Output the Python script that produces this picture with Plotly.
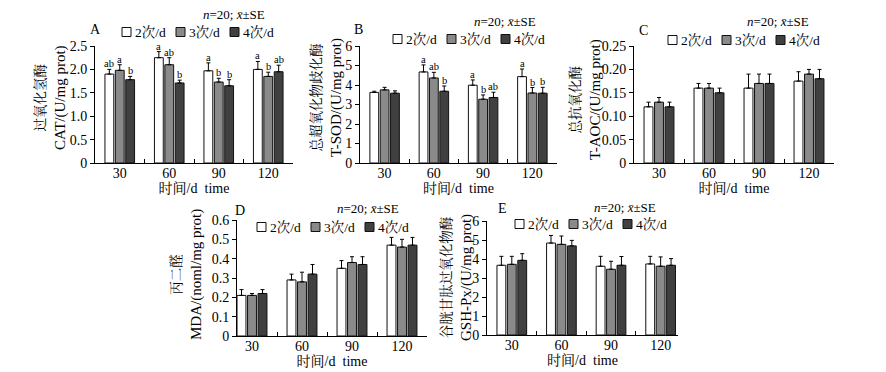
import plotly.graph_objects as go

W, H = 886, 372

categories = ["30", "60", "90", "120"]
groups = ["2次/d", "3次/d", "4次/d"]
bar_colors = ["#ffffff", "#8a8a8a", "#404040"]

# A: CAT
cat_2 = [1.90, 2.25, 1.97, 2.00]
cat_3 = [1.98, 2.10, 1.73, 1.85]
cat_4 = [1.78, 1.71, 1.65, 1.95]
cat_2_se = [0.10, 0.13, 0.17, 0.17]
cat_3_se = [0.12, 0.15, 0.08, 0.09]
cat_4_se = [0.07, 0.06, 0.13, 0.14]
cat_2_sig = ["ab", "a", "a", "a"]
cat_3_sig = ["a", "ab", "b", "b"]
cat_4_sig = ["b", "b", "b", "ab"]

# B: T-SOD
sod_2 = [3.62, 4.67, 3.99, 4.43]
sod_3 = [3.75, 4.36, 3.27, 3.59]
sod_4 = [3.58, 3.68, 3.36, 3.58]
sod_2_se = [0.06, 0.36, 0.27, 0.39]
sod_3_se = [0.13, 0.29, 0.22, 0.28]
sod_4_se = [0.12, 0.27, 0.27, 0.30]
sod_2_sig = ["", "a", "a", "a"]
sod_3_sig = ["", "ab", "b", "b"]
sod_4_sig = ["", "b", "ab", "b"]

# C: T-AOC
aoc_2 = [0.12, 0.16, 0.16, 0.175]
aoc_3 = [0.13, 0.16, 0.17, 0.19]
aoc_4 = [0.12, 0.15, 0.17, 0.18]
aoc_2_se = [0.01, 0.01, 0.03, 0.02]
aoc_3_se = [0.01, 0.01, 0.02, 0.01]
aoc_4_se = [0.01, 0.01, 0.02, 0.02]

# D: MDA
mda_2 = [0.21, 0.29, 0.35, 0.47]
mda_3 = [0.21, 0.28, 0.38, 0.46]
mda_4 = [0.22, 0.32, 0.37, 0.47]
mda_2_se = [0.03, 0.03, 0.04, 0.04]
mda_3_se = [0.01, 0.05, 0.03, 0.04]
mda_4_se = [0.02, 0.05, 0.04, 0.04]

# E: GSH-Px
gsh_2 = [3.67, 4.84, 3.62, 3.74]
gsh_3 = [3.72, 4.77, 3.46, 3.62]
gsh_4 = [3.93, 4.69, 3.67, 3.67]
gsh_2_se = [0.47, 0.40, 0.52, 0.40]
gsh_3_se = [0.42, 0.44, 0.42, 0.49]
gsh_4_se = [0.35, 0.29, 0.46, 0.35]

SERIF = "Liberation Serif, Times New Roman, Noto Serif CJK SC, Noto Sans CJK SC, serif"
BARGAP = 0.37

panels = [
    dict(label="A", means=[cat_2, cat_3, cat_4], ses=[cat_2_se, cat_3_se, cat_4_se],
         sig=[cat_2_sig, cat_3_sig, cat_4_sig],
         cn="过氧化氢酶", en="CAT/(U/mg prot)",
         box=(95, 293, 46, 163), xr=[-0.5, 3.5],
         yticks=[0, 0.5, 1.0, 1.5, 2.0, 2.5], ytext=["0", "0.5", "1.0", "1.5", "2.0", "2.5"],
         lab=(95, 29), nse=(234, 15), leg=(122, 32), ttl=(51, 98)),
    dict(label="B", means=[sod_2, sod_3, sod_4], ses=[sod_2_se, sod_3_se, sod_4_se],
         sig=[sod_2_sig, sod_3_sig, sod_4_sig],
         cn="总超氧化物歧化酶", en="T-SOD/(U/mg prot)",
         box=(360, 557, 46, 163), xr=[-0.5, 3.5],
         yticks=[0, 1, 2, 3, 4, 5, 6], ytext=["0", "1", "2", "3", "4", "5", "6"],
         lab=(358, 29), nse=(505, 22), leg=(393, 39), ttl=(326, 98)),
    dict(label="C", means=[aoc_2, aoc_3, aoc_4], ses=[aoc_2_se, aoc_3_se, aoc_4_se],
         sig=None,
         cn="总抗氧化酶", en="T-AOC/(U/mg prot)",
         box=(634, 834, 46, 163), xr=[-0.5, 3.5],
         yticks=[0, 0.05, 0.10, 0.15, 0.20, 0.25],
         ytext=["0", "0.05", "0.10", "0.15", "0.20", "0.25"],
         lab=(643, 30), nse=(778, 22), leg=(668, 40), ttl=(585, 100)),
    dict(label="D", means=[mda_2, mda_3, mda_4], ses=[mda_2_se, mda_3_se, mda_4_se],
         sig=None,
         cn="丙二醛", en="MDA/(noml/mg prot)",
         box=(237, 427, 220, 336), xr=[-0.3, 3.5],
         yticks=[0, 0.1, 0.2, 0.3, 0.4, 0.5, 0.6],
         ytext=["0", "0.1", "0.2", "0.3", "0.4", "0.5", "0.6"],
         lab=(240, 210), nse=(368, 209), leg=(257, 227), ttl=(186, 275)),
    dict(label="E", means=[gsh_2, gsh_3, gsh_4], ses=[gsh_2_se, gsh_3_se, gsh_4_se],
         sig=None,
         cn="谷胱甘肽过氧化物酶", en="GSH-Px/(U/mg prot)",
         box=(487, 678, 221, 335), xr=[-0.5, 3.35],
         yticks=[0, 1, 2, 3, 4, 5, 6], ytext=["0", "1", "2", "3", "4", "5", "6"],
         lab=(502, 209), nse=(625, 208), leg=(515, 224), ttl=(456, 278)),
]


def px(x):
    return x / W


def py(y):
    return 1 - y / H


fig = go.Figure()
layout = dict(
    width=W, height=H, margin=dict(l=0, r=0, t=0, b=0),
    paper_bgcolor="white", plot_bgcolor="white",
    barmode="group", bargap=BARGAP, bargroupgap=0.15,
    showlegend=False, font=dict(family=SERIF, size=14, color="black"),
)
annotations = []
shapes = []

for k, p in enumerate(panels):
    idx = "" if k == 0 else str(k + 1)
    xa, ya = "x" + idx, "y" + idx
    x0, x1, y0, y1 = p["box"]
    ymax = p["yticks"][-1]
    for g in range(3):
        fig.add_trace(go.Bar(
            x=categories, y=p["means"][g], name=groups[g],
            xaxis=xa, yaxis=ya, offsetgroup=str(g),
            marker=dict(color=bar_colors[g], line=dict(color="#111111", width=1)),
            error_y=dict(type="data", array=p["ses"][g], arrayminus=[0] * 4,
                         symmetric=False, color="black", thickness=1, width=2),
            hoverinfo="skip",
        ))
    layout["xaxis" + idx] = dict(
        domain=[px(x0), px(x1)], anchor=ya, type="category", range=p["xr"],
        showline=True, linecolor="black", linewidth=1, mirror=False,
        ticks="inside", tickson="boundaries", ticklen=4, tickcolor="black",
        showgrid=False, zeroline=False, automargin=False,
        tickfont=dict(size=14), ticklabelstandoff=-3,
        title=dict(text="时间/d\u00a0\u00a0time", font=dict(size=14), standoff=0),
    )
    layout["yaxis" + idx] = dict(
        domain=[py(y1), py(y0)], anchor=xa, range=[0, ymax],
        tickvals=p["yticks"], ticktext=p["ytext"],
        showline=True, linecolor="black", linewidth=1,
        ticks="outside", ticklen=4, tickcolor="black",
        showgrid=False, zeroline=False, automargin=False,
        tickfont=dict(size=14),
    )
    # y-axis title (two lines, rotated)
    annotations.append(dict(
        text="<span style='font-size:13.5px'>" + p["cn"] + "</span><br>" + p["en"],
        x=px(p["ttl"][0]), y=py(p["ttl"][1]), xref="paper", yref="paper",
        showarrow=False, textangle=-90, xanchor="center", yanchor="middle",
        font=dict(size=15)))
    # panel label
    annotations.append(dict(text=p["label"], x=px(p["lab"][0]), y=py(p["lab"][1]),
                            xref="paper", yref="paper", showarrow=False,
                            xanchor="center", yanchor="middle", font=dict(size=14)))
    annotations.append(dict(text="<i>n</i>=20; <i>x̄</i>±SE", x=px(p["nse"][0]), y=py(p["nse"][1]),
                            xref="paper", yref="paper", showarrow=False,
                            xanchor="center", yanchor="middle", font=dict(size=13)))
    # legend
    lx, ly = p["leg"]
    for g in range(3):
        sx = lx + g * 54
        shapes.append(dict(type="rect", xref="paper", yref="paper",
                           x0=px(sx), x1=px(sx + 9), y0=py(ly + 4.5), y1=py(ly - 4.5),
                           fillcolor=bar_colors[g], line=dict(color="#111111", width=1)))
        annotations.append(dict(text=groups[g], x=px(sx + 11), y=py(ly), xref="paper", yref="paper",
                                showarrow=False, xanchor="left", yanchor="middle",
                                font=dict(size=13.5)))
    # significance letters
    if p["sig"]:
        span = p["xr"][1] - p["xr"][0]
        catw = (x1 - x0) / span
        slot = catw * (1 - BARGAP) / 3
        for g in range(3):
            for i, c in enumerate(categories):
                t = p["sig"][g][i]
                if not t:
                    continue
                annotations.append(dict(text=t, x=i, y=p["means"][g][i] + p["ses"][g][i],
                                        xref=xa, yref=ya, showarrow=False,
                                        xanchor="center", yanchor="bottom",
                                        xshift=(g - 1) * slot, yshift=-2,
                                        font=dict(size=10.5)))

layout["annotations"] = annotations
layout["shapes"] = shapes
fig.update_layout(**layout)
fig.write_html("out.html",
               config={"displayModeBar": False, "staticPlot": True},
               post_script="document.body.style.margin='0px';document.body.style.padding='0px';")
